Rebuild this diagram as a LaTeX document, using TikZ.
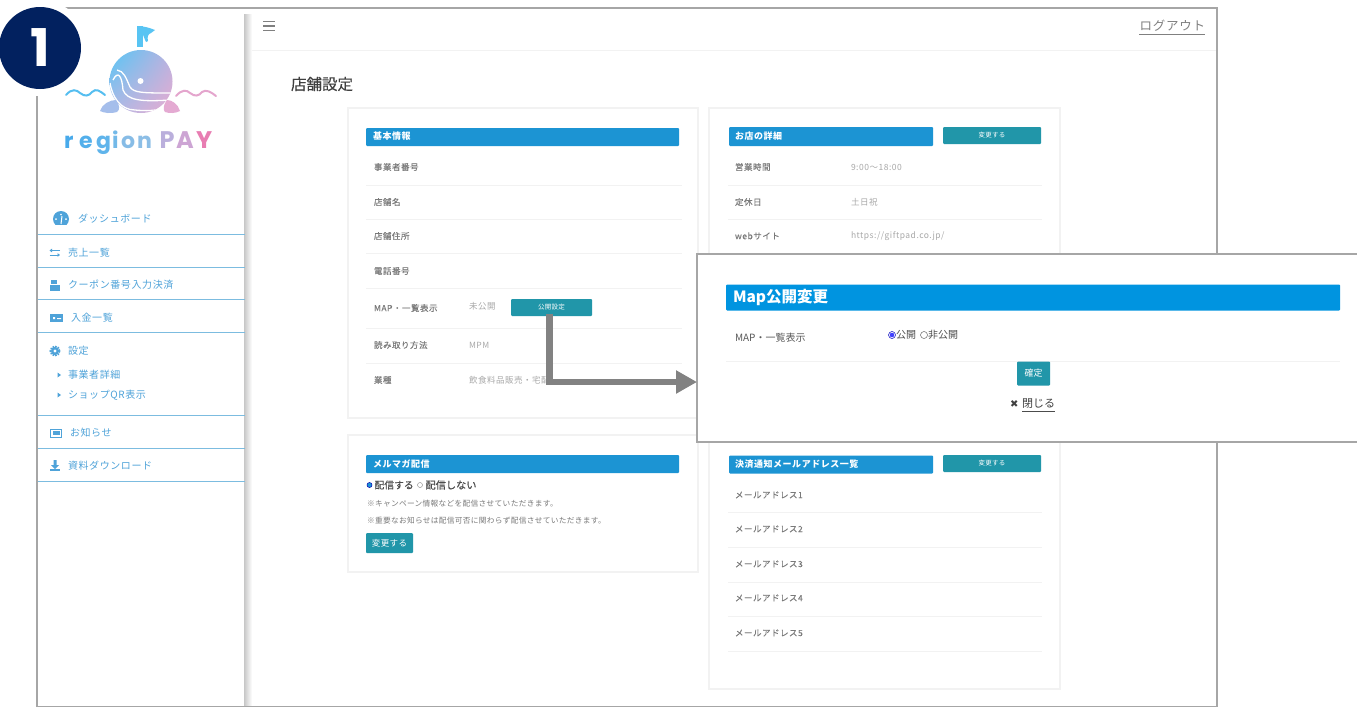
\documentclass[tikz,border=0pt]{standalone}
\usepackage{fontspec}
\setmainfont{Noto Sans CJK JP}
\newfontfamily\sidefont[LetterSpace=6]{Noto Sans CJK JP}
\newfontfamily\lblfont[LetterSpace=6,FakeBold=0.15]{Noto Sans CJK JP}
\newfontfamily\tinyfont[LetterSpace=4]{Noto Sans CJK JP}
\newfontfamily\medfont[FakeBold=0.3]{Noto Sans CJK JP}
\newfontfamily\logofont{Poppins}
\newfontfamily\symfont{DejaVu Sans}
\usetikzlibrary{arrows.meta,shadings}
\definecolor{frameg}{HTML}{A6A6A6}
\definecolor{sideblue}{HTML}{4FA3D9}
\definecolor{sideline}{HTML}{7CBCE0}
\definecolor{headblue}{HTML}{1C94D3}
\definecolor{modalblue}{HTML}{0094E0}
\definecolor{teal}{HTML}{2196A9}
\definecolor{navy}{HTML}{02215F}
\definecolor{lblgray}{HTML}{7A7A7A}
\definecolor{valgray}{HTML}{A8A8A8}
\definecolor{rowline}{HTML}{F2F2F2}
\definecolor{whaleblue}{RGB}{88,196,243}
\tikzset{
  x=1pt,y=-1pt,
  every node/.style={inner sep=0pt,outer sep=0pt},
  side/.style={anchor=west,text=sideblue,font=\sidefont\fontsize{10}{12}\selectfont},
  sideicon/.style={fill=sideblue,draw=none},
  sideiconline/.style={draw=sideblue,line width=1pt},
  siderule/.style={draw=sideline,line width=1pt},
  card/.style={fill=white,draw=rowline,line width=1.2pt},
  rowrule/.style={draw=rowline,line width=.8pt},
  lbl/.style={anchor=west,text=lblgray,font=\lblfont\fontsize{8.5}{10}\selectfont},
  val/.style={anchor=west,text=valgray,font=\sidefont\fontsize{8.5}{10}\selectfont},
  head/.style={fill=headblue,rounded corners=1pt},
  headtext/.style={anchor=west,text=white,font=\sidefont\bfseries\fontsize{9}{11}\selectfont},
  btn/.style={fill=teal,rounded corners=1pt,text=white},
  btntext/.style={font=\tinyfont\fontsize{6.5}{8}\selectfont},
  flow/.style={draw=gray!98,line width=6.5pt,-{Triangle[length=21pt,width=22pt]}},
  logol/.style={anchor=base west,font=\logofont\bfseries\fontsize{22}{24}\selectfont},
  logou/.style={anchor=base west,font=\logofont\bfseries\fontsize{24}{26}\selectfont},
  mailt/.style={anchor=west,text=black!70,font=\medfont\fontsize{9.8}{11}\selectfont},
  note/.style={anchor=west,text=lblgray,font=\tinyfont\fontsize{7.7}{9}\selectfont},
}
\begin{document}
\begin{tikzpicture}
\path[use as bounding box] (0,0) rectangle (1357,707);
\fill[white] (0,0) rectangle (1357,707);
% window
\draw[frameg,line width=2pt] (37,707) -- (37,8) -- (1217,8) -- (1217,707);
\draw[frameg,line width=1pt] (37,706) -- (1217,706);
\draw[rowline,line width=1pt] (245,50) -- (1216,50);
% sidebar with shadow
\shade[left color=black!22,right color=white] (244,14) rectangle (252,705);
\fill[white] (38,9) rectangle (244,705);
% badge
\fill[white] (40,48) circle[radius=48pt];
\node (badge) [circle,fill=navy,minimum size=82pt,text=white,font=\logofont\bfseries\fontsize{52}{54}\selectfont] at (40,48) {1};
% whale logo
\fill[whaleblue] (137,26) rectangle (142.5,47);
\fill[whaleblue] (137,26) .. controls (144,26) and (150,28) .. (155,30) -- (151,33) .. controls (148,34) and (147,37) .. (148,41) -- (146,42) .. controls (144,38) and (143,34) .. (142,33) -- (137,33) -- cycle;
\begin{scope}
\clip (141,81.5) circle[radius=31.5pt];
\shade[upper left={rgb,255:red,85;green,198;blue,245},upper right={rgb,255:red,185;green,178;blue,224},lower left={rgb,255:red,175;green,185;blue,230},lower right={rgb,255:red,232;green,172;blue,208}] (109,50) rectangle (173,113);
\draw[white,line width=1.3pt] (117,70) .. controls (124,71) and (126,78) .. (130,87) .. controls (134,93) and (143,93) .. (172,93);
\draw[white,line width=1.3pt] (113,80) .. controls (118,70) and (122,76) .. (123,90) .. controls (127,100) and (140,102) .. (170,100);
\draw[white,line width=1.3pt] (110,83) .. controls (112,96) and (120,110) .. (135,110) .. controls (145,111) and (155,111) .. (165,108);
\end{scope}
\fill[white] (140.5,81) circle[radius=3pt];
\fill[color={rgb,255:red,165;green,190;blue,235}] (100,111) .. controls (102,104) and (110,100) .. (116,100) .. controls (120,105) and (120,110) .. (117,112) .. controls (111,114) and (104,113) .. (100,111) -- cycle;
\fill[color={rgb,255:red,228;green,170;blue,210}] (180,111) .. controls (178,104) and (172,100) .. (167,100) .. controls (163,105) and (163,110) .. (165,112) .. controls (170,114) and (176,113) .. (180,111) -- cycle;
\draw[color={rgb,255:red,85;green,190;blue,240},line width=2pt,line cap=round] (66,95) .. controls (72,88) and (77,90) .. (80,93) .. controls (85,97) and (89,96) .. (92,92) .. controls (96,88) and (100,91) .. (105,95);
\draw[color={rgb,255:red,228;green,165;blue,205},line width=2pt,line cap=round] (176,96) .. controls (182,89) and (187,90) .. (190,93) .. controls (195,97) and (199,96) .. (202,92) .. controls (206,89) and (211,92) .. (216,96);
\node (l1) [logol,text={rgb,255:red,72;green,170;blue,235}] at (64,148) {r};
\node (l2) [logol,text={rgb,255:red,82;green,175;blue,235}] at (79,148) {e};
\node (l3) [logol,text={rgb,255:red,95;green,180;blue,235}] at (96,148) {g};
\node (l4) [logol,text={rgb,255:red,115;green,185;blue,232}] at (112,148) {i};
\node (l5) [logol,text={rgb,255:red,135;green,188;blue,230}] at (121,148) {o};
\node (l6) [logol,text={rgb,255:red,140;green,190;blue,230}] at (137,148) {n};
\node (l7) [logou,text={rgb,255:red,186;green,175;blue,220}] at (159.5,148) {P};
\node (l8) [logou,text={rgb,255:red,205;green,165;blue,212}] at (176,148) {A};
\node (l9) [logou,text={rgb,255:red,232;green,125;blue,178}] at (196,148) {Y};
% sidebar menu
\foreach \yy in {234,267,299,332,415,448,481} \draw[siderule] (38,\yy) -- (245,\yy);
\node (m1) [side] at (78,219) {ダッシュボード};
\node (m2) [side] at (68,253) {売上一覧};
\node (m3) [side] at (68,285) {クーポン番号入力決済};
\node (m4) [side] at (71,318) {入金一覧};
\node (m5) [side] at (68,351) {設定};
\node (m6) [side] at (68,375) {事業者詳細};
\node (m7) [side] at (68,395) {ショップQR表示};
\node (m8) [side] at (70,433) {お知らせ};
\node (m9) [side] at (68,466) {資料ダウンロード};
% icons
\fill[sideicon] (61,219) circle[radius=8pt];
\fill[white] (52,225) rectangle (70,228);
\draw[white,line width=1pt] (61,224) -- (62,216);
\fill[white] (56,219) circle[radius=1pt] (66,219) circle[radius=1pt] (61,214.5) circle[radius=.8pt];
\draw[sideiconline,-{Triangle[length=2.5pt,width=3.5pt]}] (60,250.5) -- (49.5,250.5);
\draw[sideiconline,-{Triangle[length=2.5pt,width=3.5pt]}] (49.5,255) -- (60,255);
\fill[sideicon] (50,285) rectangle (60,291);
\fill[sideicon] (51,280) rectangle (57,284);
\fill[sideicon] (50,314) rectangle (63,322);
\fill[white] (53,317) rectangle (55,319) (57,318) rectangle (61,319);
\draw[sideblue,line width=2pt,dash pattern=on 1.6pt off 1pt] (55,351) circle[radius=4.5pt];
\fill[sideicon] (55,351) circle[radius=4pt];
\fill[white] (55,351) circle[radius=1.6pt];
\fill[sideicon] (57.5,372.5) -- (61,375) -- (57.5,377.5) -- cycle;
\fill[sideicon] (57.5,392.5) -- (61,395) -- (57.5,397.5) -- cycle;
\draw[sideiconline] (50.5,429) rectangle (61.5,437);
\fill[sideicon] (53,431) rectangle (59.5,435);
\fill[sideicon] (50,469) rectangle (60,471);
\fill[sideicon] (53.5,460) rectangle (56.5,465) (51,465) -- (59,465) -- (55,469) -- cycle;
% top bar
\draw[gray,line width=1.2pt] (263,21.5) -- (275,21.5) (263,26) -- (275,26) (263,30.5) -- (275,30.5);
\node (logout) [anchor=east,text=gray,font=\sidefont\fontsize{12.5}{14}\selectfont] at (1205,26) {ログアウト};
\draw[gray,line width=.6pt] (1139,34) -- (1205,34);
\node (title) [anchor=west,text=black!75,font=\medfont\fontsize{15.5}{17}\selectfont] at (291,84) {店舗設定};
% cards
\node (card1) [card,minimum width=350pt,minimum height=310pt] at (523,263) {};
\node (card2) [card,minimum width=350pt,minimum height=137pt] at (523,503.5) {};
\node (card3) [card,minimum width=351pt,minimum height=170pt] at (884.5,193) {};
\node (card4) [card,minimum width=351pt,minimum height=270pt] at (884.5,554) {};
% card 1
\node (h1) [head,minimum width=313pt,minimum height=18pt] at (522.5,137) {};
\node (h1t) [headtext] at (373,136.5) {基本情報};
\foreach \yy in {185,219,253,288,328,363} \draw[rowrule] (366,\yy) -- (682,\yy);
\node (a1) [lbl] at (374,167) {事業者番号};
\node (a2) [lbl] at (374,202) {店舗名};
\node (a3) [lbl] at (374,236) {店舗住所};
\node (a4) [lbl] at (374,271) {電話番号};
\node (a5) [lbl] at (374,308) {MAP・一覧表示};
\node (a6) [lbl] at (374,345) {読み取り方法};
\node (a7) [lbl] at (374,380) {業種};
\node (b5) [val] at (469,306) {未公開};
\node (b6) [val] at (469,345) {MPM};
\node (b7) [val] at (469,380) {飲食料品販売・宅配};
\node (setbtn) [btn,btntext,minimum width=81pt,minimum height=17pt] at (551.5,307.5) {公開設定};
% card 2
\node (h2) [head,minimum width=313pt,minimum height=18pt] at (522.5,464) {};
\node (h2t) [headtext] at (373,464) {メルマガ配信};
\draw[blue!70!black,line width=.5pt,fill=headblue] (369.5,485) circle[radius=2.5pt];
\node (r1) [mailt] at (374.5,485) {配信する};
\draw[gray,line width=.4pt] (420,485) circle[radius=2.5pt];
\node (r2) [mailt,font=\medfont\fontsize{10.2}{12}\selectfont] at (425.5,485) {配信しない};
\node (n1) [note] at (367,504) {※キャンペーン情報などを配信させていただきます。};
\node (n2) [note] at (367,521) {※重要なお知らせは配信可否に関わらず配信させていただきます。};
\node (mailbtn) [btn,font=\tinyfont\fontsize{8.5}{10}\selectfont,minimum width=47pt,minimum height=20pt] at (389.5,543) {変更する};
% card 3
\node (h3) [head,minimum width=204pt,minimum height=19pt] at (831,136.5) {};
\node (h3t) [headtext] at (735,136.5) {お店の詳細};
\node (c3btn) [btn,btntext,minimum width=98pt,minimum height=17pt] at (992,135.5) {変更する};
\foreach \yy in {185,219} \draw[rowrule] (728,\yy) -- (1042,\yy);
\node (d1) [lbl] at (735,167) {営業時間};
\node (d2) [lbl] at (735,202) {定休日};
\node (d3) [lbl] at (735,236) {webサイト};
\node (e1) [val] at (851,167) {9:00〜18:00};
\node (e2) [val] at (851,202) {土日祝};
\node (e3) [val] at (851,236) {https://giftpad.co.jp/};
% card 4
\node (h4) [head,minimum width=204pt,minimum height=18pt] at (831,464.5) {};
\node (h4t) [headtext] at (735,464.5) {決済通知メールアドレス一覧};
\node (c4btn) [btn,btntext,minimum width=98pt,minimum height=17pt] at (992,463.5) {変更する};
\foreach \yy in {512,547,582,616,651} \draw[rowrule] (728,\yy) -- (1042,\yy);
\node (f1) [lbl] at (735,495) {メールアドレス1};
\node (f2) [lbl] at (735,529) {メールアドレス2};
\node (f3) [lbl] at (735,564) {メールアドレス3};
\node (f4) [lbl] at (735,598) {メールアドレス4};
\node (f5) [lbl] at (735,633) {メールアドレス5};
% modal
\node (modal) [fill=white,draw=frameg,line width=2pt,minimum width=680pt,minimum height=188pt] at (1037,348) {};
\node (mh) [fill=modalblue,rounded corners=1pt,minimum width=614pt,minimum height=26pt] at (1033,297.5) {};
\node (mht) [anchor=west,text=white,font=\bfseries\fontsize{15.5}{17}\selectfont] at (733,297.5) {Map公開変更};
\node (ml) [anchor=west,text=black!65,font=\fontsize{10}{12}\selectfont] at (735,338) {MAP・一覧表示};
\draw[blue!75!black,line width=.5pt] (892,335) circle[radius=3.5pt];
\fill[blue!75!white] (892,335) circle[radius=2.3pt];
\node (mr1) [anchor=west,text=black!70,font=\fontsize{10}{12}\selectfont] at (896,335) {公開};
\draw[black!60,line width=.5pt] (924,335) circle[radius=3.5pt];
\node (mr2) [anchor=west,text=black!70,font=\fontsize{10}{12}\selectfont] at (928,335) {非公開};
\draw[rowline,line width=1pt] (726,361) -- (1340,361);
\node (ok) [fill=teal,rounded corners=1pt,text=white,font=\fontsize{9}{11}\selectfont,minimum width=33pt,minimum height=24pt] at (1033.5,373.5) {確定};
\node (closex) [anchor=west,text=black!75,font=\symfont\fontsize{10}{12}\selectfont] at (1010,404) {✖};
\node (close) [anchor=west,text=black!75,font=\fontsize{11}{13}\selectfont] at (1022,404) {閉じる};
\draw[black!70,line width=.5pt] (1022,411) -- (1055,411);
% connector
\draw[flow] ([xshift=-2pt,yshift=-6pt]setbtn.center) |- ([yshift=-34pt]modal.west);
\end{tikzpicture}
\end{document}
